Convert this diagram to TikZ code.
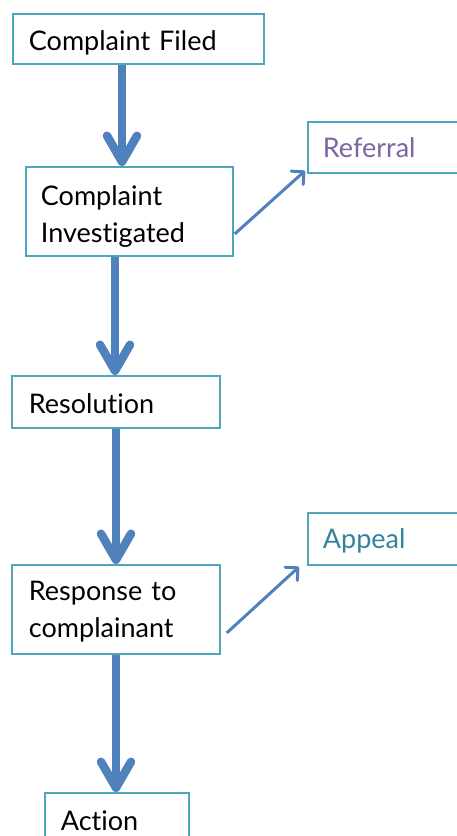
\documentclass[tikz,border=0pt]{standalone}
\usepackage{fontspec}
\setmainfont{Lato}[Ligatures=CommonOff]
\usetikzlibrary{arrows.meta}
\definecolor{arrowblue}{HTML}{4F81BD}
\definecolor{boxline}{HTML}{4FA5BC}
\definecolor{refpurple}{HTML}{8064A2}
\definecolor{appteal}{HTML}{31849B}
\tikzset{
  stepbox/.style={draw=boxline, line width=1.8pt, fill=white, rectangle, anchor=north west,
    align=left, inner ysep=0pt, font=\fontsize{27}{37}\selectfont},
  bigarrow/.style={draw=arrowblue, line width=8.5pt,
    -{Straight Barb[length=26pt, width=30pt, line width=8.5pt, round]}},
  thinarrow/.style={draw=arrowblue, line width=3pt,
    -{Straight Barb[length=9pt, width=18pt, line width=3pt, round]}}
}
\begin{document}
\begin{tikzpicture}[x=1pt,y=-1pt]
\useasboundingbox (0,0) rectangle (457,836);
\node[stepbox, text height=37pt, text depth=13pt, inner xsep=16pt, text width=219pt] (filed) at (12,13) {Complaint Filed};
\node[stepbox, text height=39pt, text depth=50pt, inner xsep=15pt, text width=177pt] (inv) at (25,166) {Complaint\\Investigated};
\node[stepbox, text height=36pt, text depth=15pt, inner xsep=15pt, text width=123pt, text=refpurple] (ref) at (307,121) {Referral};
\node[stepbox, text height=38pt, text depth=14pt, inner xsep=17pt, text width=174pt] (res) at (11,375) {Resolution};
\node[stepbox, text height=36pt, text depth=16pt, inner xsep=15pt, text width=123pt, text=appteal] (app) at (307,512) {Appeal};
\node[stepbox, text height=36pt, text depth=53pt, inner xsep=17pt, text width=174pt] (resp) at (11,564) {Response to\\complainant};
\node[stepbox, text height=38pt, text depth=22pt, inner xsep=16pt, text width=112pt] (act) at (44,792) {Action};
\draw[bigarrow] ([xshift=110pt]filed.south west) -- ([xshift=110pt]filed.south west |- inv.north);
\draw[bigarrow] ([xshift=90pt]inv.south west) -- ([xshift=90pt]inv.south west |- res.north);
\draw[bigarrow] ([xshift=105pt]res.south west) -- ([xshift=105pt]res.south west |- resp.north);
\draw[bigarrow] ([xshift=105pt]resp.south west) -- ([xshift=105pt]resp.south west |- act.north);
\draw[thinarrow] ([xshift=1pt,yshift=-22.5pt]inv.east) -- ([xshift=-2pt,yshift=3pt]ref.south west);
\draw[thinarrow] ([xshift=6pt,yshift=-23.5pt]resp.east) -- ([xshift=-8pt,yshift=-1pt]app.south west);
\end{tikzpicture}
\end{document}
